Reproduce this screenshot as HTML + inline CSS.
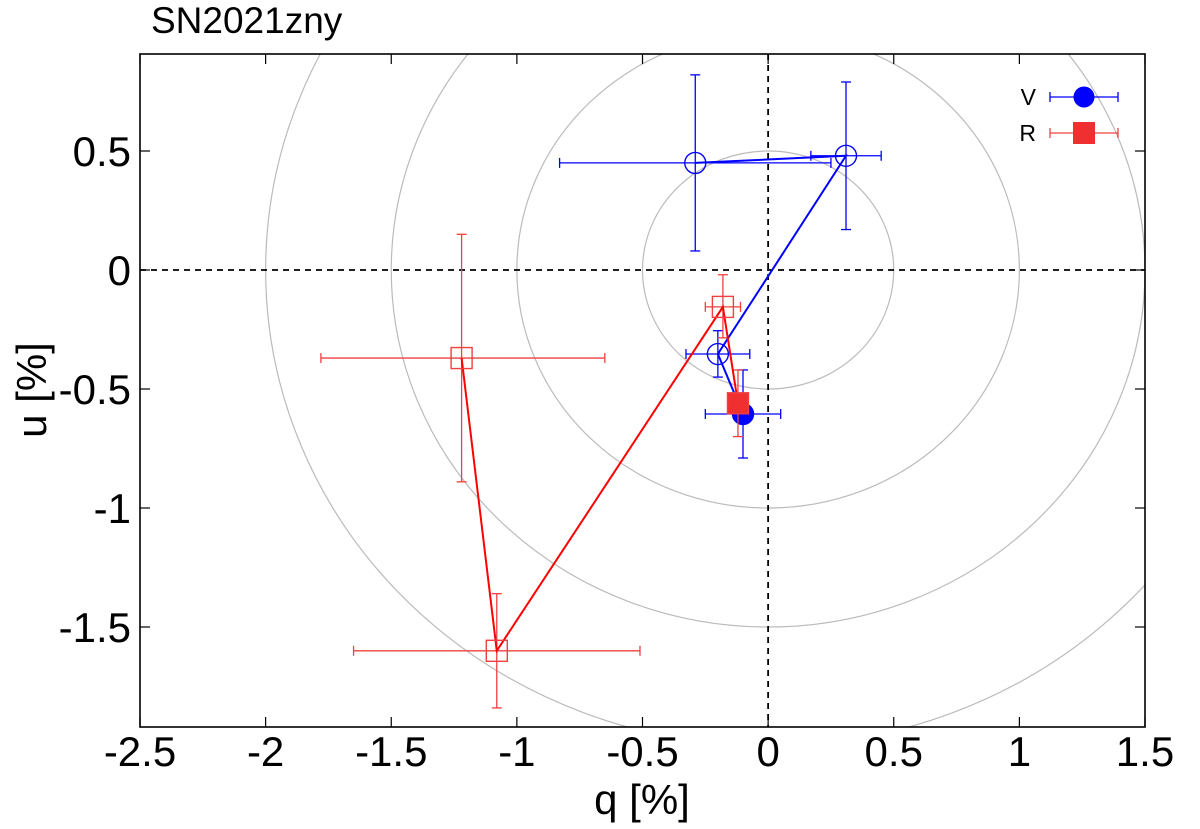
<!DOCTYPE html>
<html><head><meta charset="utf-8"><style>
html,body{margin:0;padding:0;background:#fff;}
svg{display:block;font-family:"Liberation Sans",sans-serif;}
</style></head><body>
<svg id="chart" width="1200" height="829" viewBox="0 0 1200 829">
<defs><clipPath id="clip"><rect x="140" y="54" width="1005" height="673"/></clipPath></defs>
<text x="151" y="33" font-size="37" fill="#000">SN2021zny</text>
<g id="grid" clip-path="url(#clip)"></g>
<g id="axes"></g>
<g id="series" clip-path="url(#clip)"></g>
<g id="legend"></g>
<text x="642" y="814" font-size="42" text-anchor="middle">q [%]</text>
<text transform="translate(46,390) rotate(-90)" font-size="42" text-anchor="middle">u [%]</text>
</svg>
<script>
const xTicks=[-2.5,-2,-1.5,-1,-0.5,0,0.5,1,1.5];
const yTicks=[0.5,0,-0.5,-1,-1.5];
const radii=[0.5,1,1.5,2];
const vQ=[-0.29,0.31,-0.2,-0.1];
const vU=[0.45,0.48,-0.353,-0.605];
const vQlo=[-0.83,0.17,-0.327,-0.25];
const vQhi=[0.25,0.45,-0.073,0.05];
const vUlo=[0.08,0.17,-0.45,-0.79];
const vUhi=[0.82,0.79,-0.255,-0.42];
const rQ=[-1.22,-1.08,-0.18,-0.12];
const rU=[-0.37,-1.6,-0.155,-0.56];
const rQlo=[-1.78,-1.65,-0.25,-0.16];
const rQhi=[-0.65,-0.51,-0.11,-0.08];
const rUlo=[-0.89,-1.84,-0.285,-0.70];
const rUhi=[0.15,-1.36,-0.02,-0.42];
const X0=140,X1=1145,Y0=54,Y1=727;
const xmin=-2.5,xmax=1.5,ymax=0.9076,ymin=-1.9202;
function sx(v){return X0+(v-xmin)/(xmax-xmin)*(X1-X0);}
function sy(v){return Y0+(ymax-v)/(ymax-ymin)*(Y1-Y0);}
const NS='http://www.w3.org/2000/svg';
function mk(tag,attrs,parent){const e=document.createElementNS(NS,tag);for(const k in attrs)e.setAttribute(k,attrs[k]);parent.appendChild(e);return e;}
const grid=document.getElementById('grid'),axes=document.getElementById('axes'),ser=document.getElementById('series'),leg=document.getElementById('legend');
radii.forEach(r=>{const e=mk('ellipse',{cx:sx(0),cy:sy(0),rx:sx(r)-sx(0),ry:sy(0)-sy(r),fill:'none',stroke:'#bbb','stroke-width':1.2},grid);

});
let l=mk('line',{x1:X0,x2:X1,y1:sy(0),y2:sy(0),stroke:'#000','stroke-width':1.8,'stroke-dasharray':'6,5'},grid);


l=mk('line',{x1:sx(0),x2:sx(0),y1:Y0,y2:Y1,stroke:'#000','stroke-width':1.8,'stroke-dasharray':'6,5'},grid);


const fr=mk('rect',{x:X0,y:Y0,width:X1-X0,height:Y1-Y0,fill:'none',stroke:'#000','stroke-width':1.6},axes);


xTicks.forEach(t=>{const x=sx(t);
mk('line',{x1:x,x2:x,y1:Y1,y2:Y1-10,stroke:'#000','stroke-width':1.2},axes);
mk('line',{x1:x,x2:x,y1:Y0,y2:Y0+10,stroke:'#000','stroke-width':1.2},axes);
const tx=mk('text',{x:x,y:766,'font-size':42,'text-anchor':'middle'},axes);tx.textContent=String(t);

});
yTicks.forEach(t=>{const y=sy(t);
mk('line',{x1:X0,x2:X0+10,y1:y,y2:y,stroke:'#000','stroke-width':1.2},axes);
mk('line',{x1:X1,x2:X1-10,y1:y,y2:y,stroke:'#000','stroke-width':1.2},axes);
const tx=mk('text',{x:X0-9,y:y+15,'font-size':42,'text-anchor':'end'},axes);tx.textContent=String(t);

});
function errbar(q,u,ql,qh,ul,uh,color,g){
mk('line',{x1:sx(ql),x2:sx(qh),y1:sy(u),y2:sy(u),stroke:color,'stroke-width':1.3},g);
mk('line',{x1:sx(ql),x2:sx(ql),y1:sy(u)-5,y2:sy(u)+5,stroke:color,'stroke-width':1.3},g);
mk('line',{x1:sx(qh),x2:sx(qh),y1:sy(u)-5,y2:sy(u)+5,stroke:color,'stroke-width':1.3},g);
mk('line',{x1:sx(q),x2:sx(q),y1:sy(ul),y2:sy(uh),stroke:color,'stroke-width':1.3},g);
mk('line',{x1:sx(q)-5,x2:sx(q)+5,y1:sy(ul),y2:sy(ul),stroke:color,'stroke-width':1.3},g);
mk('line',{x1:sx(q)-5,x2:sx(q)+5,y1:sy(uh),y2:sy(uh),stroke:color,'stroke-width':1.3},g);}
function series(Q,U,Ql,Qh,Ul,Uh,color,ecolor,shape,name){
const g=mk('g',{},ser);


Q.forEach((q,i)=>errbar(q,U[i],Ql[i],Qh[i],Ul[i],Uh[i],ecolor,g));
const pl=mk('polyline',{points:Q.map((q,i)=>sx(q)+','+sy(U[i])).join(' '),fill:'none',stroke:color,'stroke-width':2},g);


Q.forEach((q,i)=>{const last=i===Q.length-1;const x=sx(q),y=sy(U[i]);let m;
if(shape==='circle')m=mk('circle',{cx:x,cy:y,r:10.5,fill:last?color:'none',stroke:color,'stroke-width':1.4},g);
else m=mk('rect',{x:x-10.5,y:y-10.5,width:21,height:21,fill:last?'#f03030':'none',stroke:ecolor,'stroke-width':1.4},g);

});}
series(vQ,vU,vQlo,vQhi,vUlo,vUhi,'#0000ff','#0000ff','circle','v-band');
series(rQ,rU,rQlo,rQhi,rUlo,rUhi,'#ff0000','#f04040','square','r-band');
[['V','#0000ff',97,'circle'],['R','#f04040',133,'square']].forEach(([t,c,y,s])=>{
const g=mk('g',{},leg);


const tx=mk('text',{x:1036,y:y+8,'font-size':23,'text-anchor':'end'},g);tx.textContent=t;
mk('line',{x1:1050,x2:1118,y1:y,y2:y,stroke:c,'stroke-width':1.3},g);
mk('line',{x1:1050,x2:1050,y1:y-5,y2:y+5,stroke:c,'stroke-width':1.3},g);
mk('line',{x1:1118,x2:1118,y1:y-5,y2:y+5,stroke:c,'stroke-width':1.3},g);
if(s==='circle')mk('circle',{cx:1084,cy:y,r:10.5,fill:c},g);
else mk('rect',{x:1073,y:y-11,width:22,height:22,fill:'#f03030'},g);});
</script>
</body></html>
